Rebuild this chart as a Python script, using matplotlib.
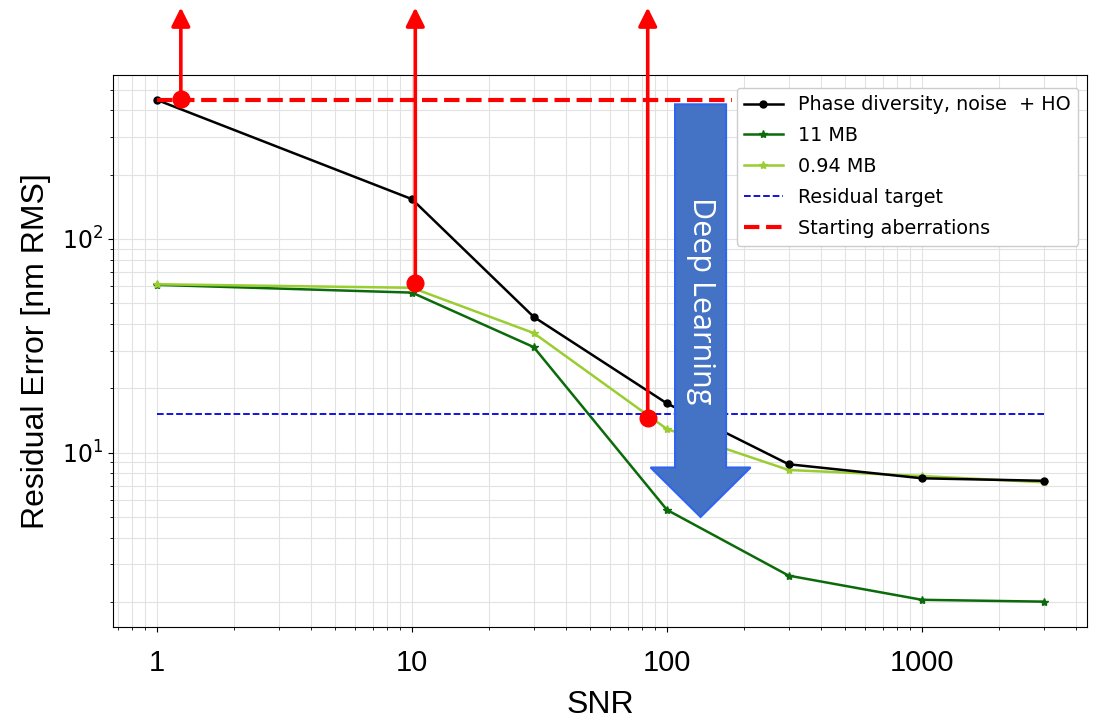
#!/usr/bin/env python3
"""Residual error vs SNR: phase diversity vs deep learning models."""

import matplotlib
matplotlib.use("Agg")
import matplotlib.pyplot as plt
from matplotlib.patches import FancyArrow

snr = [1, 10, 30, 100, 300, 1000, 3000]
phase_diversity = [447, 153.5, 43.2, 17.0, 8.83, 7.59, 7.39]
mb_11 = [61.0, 56.1, 31.2, 5.40, 2.66, 2.05, 2.01]
mb_094 = [61.4, 59.1, 36.3, 12.9, 8.30, 7.78, 7.27]

target_snr = [1, 3000]
target_level = [15.2, 15.2]

start_snr = [1, 180]
start_level = [447, 447]

# red "escape" arrows: base point of each arrow
arrow_snr = [1.24, 10.3, 84]
arrow_base = [453, 62.4, 14.5]

xtick_vals = [1, 10, 100, 1000]
xtick_labels = ["1", "10", "100", "1000"]

SANS = "Liberation Sans"


def main() -> int:
    fig = plt.figure(figsize=(10.97, 7.20), dpi=100)
    ax = fig.add_axes([0.1033, 0.1292, 0.8876, 0.7662])
    ax.set_xscale("log")
    ax.set_yscale("log")

    ax.plot(snr, phase_diversity, color="black", marker="o", markersize=5,
            lw=1.8, label="Phase diversity, noise  + HO", zorder=4)
    ax.plot(snr, mb_11, color="#0b6b0b", marker="*", markersize=6,
            lw=1.8, label="11 MB", zorder=3)
    ax.plot(snr, mb_094, color="#9acd32", marker="*", markersize=6,
            lw=1.8, label="0.94 MB", zorder=3)
    ax.plot(target_snr, target_level, color="#0000dd", ls="--", lw=1.3,
            label="Residual target", zorder=2)
    ax.plot(start_snr, start_level, color="red", ls="--", lw=3,
            label="Starting aberrations", zorder=5)

    # red arrows leaving the top of the axes
    for xs, yb in zip(arrow_snr, arrow_base):
        ax.annotate("", xy=(xs, 1.123), xycoords=("data", "axes fraction"),
                    xytext=(xs, yb), textcoords="data",
                    arrowprops=dict(arrowstyle="-|>", color="red", lw=2.6,
                                    mutation_scale=28, shrinkA=0, shrinkB=0),
                    annotation_clip=False, zorder=6)
        ax.plot([xs], [yb], marker="o", color="red", markersize=12,
                clip_on=False, zorder=7)

    # big "Deep Learning" arrow
    big = FancyArrow(0.6031, 0.9474, 0, -0.748, width=0.0524,
                     head_width=0.1027, head_length=0.0897,
                     length_includes_head=True, transform=ax.transAxes,
                     facecolor="#4472c4", edgecolor="#2e64f0", lw=1.5,
                     zorder=8)
    ax.add_patch(big)
    ax.text(0.6031, 0.591, "Deep Learning", transform=ax.transAxes,
            rotation=270, ha="center", va="center", color="white",
            fontsize=22, family="Open Sans", zorder=9)

    ax.set_xlim(0.674, 4436)
    ax.set_ylim(1.53, 583)
    ax.set_xticks(xtick_vals, labels=xtick_labels)
    ax.xaxis.set_minor_formatter(matplotlib.ticker.NullFormatter())
    ax.yaxis.set_minor_formatter(matplotlib.ticker.NullFormatter())
    for lab in ax.get_xticklabels():
        lab.set_family(SANS)
        lab.set_fontsize(21)
    ax.tick_params(axis="y", labelsize=17)
    ax.tick_params(axis="x", pad=12)

    ax.grid(True, which="both", color="#e2e2e2", lw=0.8)
    ax.set_axisbelow(True)

    ax.set_xlabel("SNR", family=SANS, fontsize=23, labelpad=10)
    ax.set_ylabel("Residual Error [nm RMS]", family=SANS, fontsize=23,
                  labelpad=8)

    leg = ax.legend(loc="upper right", fontsize=13.8, framealpha=1.0,
                    labelspacing=0.62, bbox_to_anchor=(1.001, 0.995))
    leg.set_zorder(10)

    fig.savefig("out.png", dpi=100)
    plt.close(fig)
    return 0


if __name__ == "__main__":
    main()
